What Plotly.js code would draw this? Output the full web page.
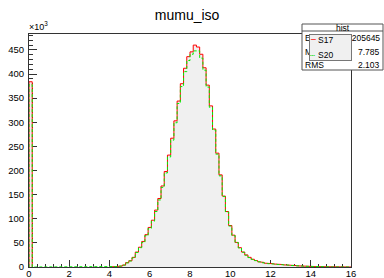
<!DOCTYPE html>
<html><head><meta charset="utf-8">
<script src="https://cdn.plot.ly/plotly-3.0.1.min.js"></script>
<style>html,body{margin:0;padding:0;background:#fff}#chart{width:384px;height:278px}</style>
</head><body><div id="chart"></div>
<script>
// ---- data (counts in thousands, 100 bins over 0..16) ----
const nBins = 100, xMin = 0, xMax = 16;
const s17 = [
 384,0,0,0,0,0,0,0,0,0,
 0,0,0,0,0,0,0,0,0,0,
 0,0,0,0,0,0.2,0.5,1,2,4,
 9,13,20,31,41,53,67,82,97,118,
 142,168,198,232,267,303,344,380,412,436,
 446,460,456,441,413,377,334,286,236,191,
 147,115,86,66,51,40,31,25,20,16,
 13.5,11,9.5,8,7.2,6.8,6.2,5.6,5,4.5,
 4,3.5,3,2.6,2.2,1.8,1.4,1.1,0.9,0.7,
 0.5,0.4,0.3,0.2,0.15,0.1,0.08,0.05,0.03,0.02
];
const s20 = [
 378,0,0,0,0,0,0,0,0,0,
 0,0,0,0,0,0,0,0,0,0,
 0,0,0,0,0,0.2,0.5,1,2,4,
 8.5,12.5,19,30,40,51,65,80,95,115,
 139,165,195,228,263,299,339,374,405,428,
 441,448,448,433,408,373,331,284,234,189,
 146,114,85,65,50.5,39.5,30.5,24.5,19.5,15.8,
 13.2,10.8,9.2,7.8,7,6.4,5.8,5.3,4.8,4.3,
 3.8,3.3,2.9,2.5,2,1.7,1.3,1,0.8,0.6,
 0.45,0.35,0.25,0.18,0.12,0.08,0.06,0.04,0.03,0.02
];
const seriesNames = ['S17', 'S20'];
const xTicks = [0,2,4,6,8,10,12,14,16];
const yTicks = [0,50,100,150,200,250,300,350,400,450];
const statsTitle = 'hist';
const statsLabels = ['Entries', 'Mean', 'RMS'];
const statsValues = ['8205645', '7.785', '2.103'];

// ---- geometry helpers ----
const W = 384, H = 278, L = 29, R = 351, T = 34, B = 267;
const pX = p => (p - L) / (R - L);
const pY = p => (B - p) / (B - T);
const edges = Array.from({length: nBins + 1}, (_, i) => xMin + i * (xMax - xMin) / nBins);

function stepPoints(vals) {
  const pts = [[edges[0], 0]];
  vals.forEach((v, i) => { pts.push([edges[i], v]); pts.push([edges[i + 1], v]); });
  pts.push([edges[nBins], 0]);
  return pts;
}
function toXY(pts, dropBaseline) {
  const x = [], y = [];
  pts.forEach((p, k) => {
    x.push(p[0]); y.push(p[1]);
    const n = pts[k + 1];
    if (dropBaseline && n && p[1] === 0 && n[1] === 0) { x.push(null); y.push(null); }
  });
  return {x, y};
}
const p17 = stepPoints(s17), p20 = stepPoints(s20);
const fillXY = toXY(p17, false), redXY = toXY(p17, true), greenXY = toXY(p20, false);

const traces = [
  {x: fillXY.x, y: fillXY.y, mode: 'lines', line: {width: 0, color: 'rgba(0,0,0,0)'}, fill: 'tozeroy', fillcolor: '#f0f0f0', hoverinfo: 'skip', showlegend: false},
  {x: redXY.x, y: redXY.y, mode: 'lines', name: seriesNames[0], line: {color: '#ff0000', width: 1}, connectgaps: false, showlegend: false},
  {x: greenXY.x, y: greenXY.y, mode: 'lines', name: seriesNames[1], line: {color: '#00f000', width: 1, dash: '3px,2px'}, showlegend: false}
];

const axisCommon = {
  ticks: 'inside', tickcolor: '#333', tickwidth: 1, showline: true, linecolor: '#333', linewidth: 1,
  mirror: true, showgrid: false, zeroline: false, layer: 'below traces', fixedrange: true,
  tickfont: {size: 9.5, color: '#000'}
};
const font = 'Liberation Sans, Arial, Helvetica, sans-serif';

const shapes = [
  {type: 'rect', xref: 'paper', yref: 'paper', x0: pX(302), x1: pX(383), y0: pY(70), y1: pY(24),
   line: {color: '#555', width: 1}, fillcolor: '#fff', layer: 'above'},
  {type: 'line', xref: 'paper', yref: 'paper', x0: pX(302), x1: pX(383), y0: pY(31), y1: pY(31),
   line: {color: '#555', width: 1}, layer: 'above'}
];

const ann = [];
ann.push({xref: 'paper', yref: 'paper', x: pX(27), y: pY(34), xanchor: 'left', yanchor: 'bottom',
  text: '×10<sup>3</sup>', showarrow: false, font: {size: 9, color: '#000'}});
ann.push({xref: 'paper', yref: 'paper', x: pX(342.5), y: pY(27.5), xanchor: 'center', yanchor: 'middle',
  text: statsTitle, showarrow: false, font: {size: 8.5, color: '#000'}});
const rowY = [38.5, 52, 65.5];
statsLabels.forEach((lab, i) => {
  ann.push({xref: 'paper', yref: 'paper', x: pX(303), y: pY(rowY[i]), xanchor: 'left', yanchor: 'middle',
    text: lab, showarrow: false, font: {size: 8.5, color: '#000'}});
  ann.push({xref: 'paper', yref: 'paper', x: pX(381.5), y: pY(rowY[i]), xanchor: 'right', yanchor: 'middle',
    text: statsValues[i], showarrow: false, font: {size: 8.5, color: '#000'}});
});
// legend box (drawn after stats text so it covers it)
ann.push({xref: 'paper', yref: 'paper', x: pX(330), y: pY(47), xanchor: 'center', yanchor: 'middle',
  text: ' ', showarrow: false, width: 41, height: 25, borderpad: 0, bgcolor: '#f0f0f0',
  bordercolor: '#777', borderwidth: 1});
const legY = [40, 55];
const legSample = ['─', '┄'];
const legColor = ['#ff0000', '#00dd00'];
seriesNames.forEach((nm, i) => {
  ann.push({xref: 'paper', yref: 'paper', x: pX(309), y: pY(legY[i]), xanchor: 'left', yanchor: 'middle',
    text: legSample[i], showarrow: false, borderpad: 0, font: {family: 'DejaVu Sans', size: 8, color: legColor[i]}});
  ann.push({xref: 'paper', yref: 'paper', x: pX(316.5), y: pY(legY[i]), xanchor: 'left', yanchor: 'middle',
    text: nm, showarrow: false, borderpad: 0, font: {size: 8.5, color: '#000'}});
});

const layout = {
  width: W, height: H,
  margin: {l: L, r: W - R, t: T, b: H - B, pad: 0},
  paper_bgcolor: '#fff', plot_bgcolor: '#fff', showlegend: false,
  font: {family: font, size: 9.5, color: '#000'},
  title: {text: 'mumu_iso', font: {family: font, size: 14, color: '#000'}, x: 188.5 / W, xanchor: 'center',
    xref: 'paper', y: 1 - 15.5 / H, yanchor: 'middle', yref: 'container'},
  xaxis: Object.assign({}, axisCommon, {range: [xMin, xMax], tickmode: 'array', tickvals: xTicks,
    ticktext: xTicks.map(String), ticklen: 7, ticklabelstandoff: -2,
    minor: {dtick: 0.4, tick0: 0, ticks: 'inside', ticklen: 3.5, tickcolor: '#333'}}),
  yaxis: Object.assign({}, axisCommon, {range: [0, 483], tickmode: 'array', tickvals: yTicks,
    ticktext: yTicks.map(String), ticklen: 8, ticklabelstandoff: 2,
    minor: {dtick: 10, tick0: 0, ticks: 'inside', ticklen: 4, tickcolor: '#333'}}),
  shapes: shapes,
  annotations: ann
};

Plotly.newPlot('chart', traces, layout, {staticPlot: true, displayModeBar: false});
</script></body></html>
